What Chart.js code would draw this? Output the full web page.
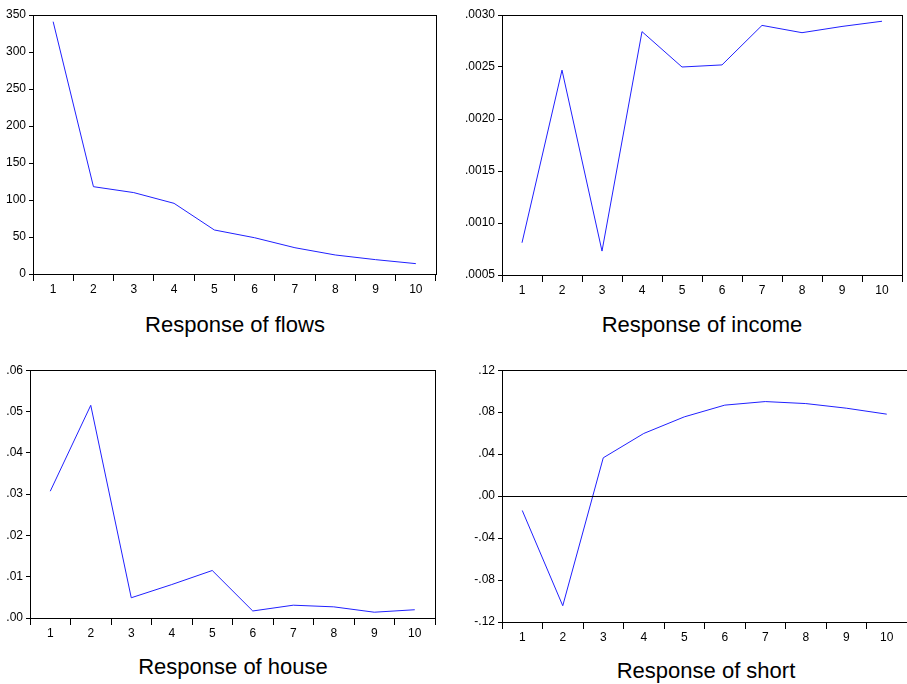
<!DOCTYPE html>
<html>
<head>
<meta charset="utf-8">
<script src="https://cdn.jsdelivr.net/npm/chart.js@4"></script>
<style>
  body { margin: 0; background: #fff; }
  #wrap { position: relative; width: 907px; height: 684px; overflow: hidden; }
  canvas { position: absolute; }
  .ttl { position: absolute; font-family: Arial, "Liberation Sans", sans-serif; font-size: 22px; color: #000; white-space: nowrap; transform: translateX(-50%); }
</style>
</head>
<body>
<div id="wrap">
  <canvas id="c1"></canvas>
  <canvas id="c2"></canvas>
  <canvas id="c3"></canvas>
  <canvas id="c4"></canvas>
  <div class="ttl" style="left:235px; top:312px;">Response of flows</div>
  <div class="ttl" style="left:702px; top:312px;">Response of income</div>
  <div class="ttl" style="left:233px; top:654px;">Response of house</div>
  <div class="ttl" style="left:706px; top:658px;">Response of short</div>
</div>
<script>
// periods after the shock
const steps = ['1', '2', '3', '4', '5', '6', '7', '8', '9', '10'];

// impulse responses
const flows = [341, 118, 110, 95.5, 59.5, 49, 35.5, 25.7, 19.4, 14];
const income = [0.00081, 0.00247, 0.00073, 0.00284, 0.00250, 0.00252, 0.00290, 0.00283, 0.00289, 0.00294];
const house = [0.0307, 0.0515, 0.0049, 0.0081, 0.0115, 0.0017, 0.0031, 0.0027, 0.0014, 0.0020];
const short = [-0.0137, -0.1045, 0.0365, 0.0597, 0.0755, 0.0867, 0.0901, 0.0882, 0.0838, 0.0781];

// y axis ranges: [min, max, step]
const flowsRange = [0, 350, 50];
const incomeRange = [0.0005, 0.0030, 0.0005];
const houseRange = [0, 0.06, 0.01];
const shortRange = [-0.12, 0.12, 0.04];

const FONT = 'Arial, "Liberation Sans", sans-serif';

// EViews style: no leading zero, fixed decimals
function evLabel(dec) {
  return function (v) {
    if (dec === 0) return String(Math.round(v));
    let s = Math.abs(v).toFixed(dec).replace(/^0/, '');
    return (v < -1e-12 ? '-' : '') + s;
  };
}

// frame around the plot area, plus the zero line when asked
const framePlugin = {
  id: 'frame',
  afterDatasetsDraw(chart, args, opts) {
    const a = chart.chartArea;
    const ctx = chart.ctx;
    ctx.save();
    ctx.strokeStyle = '#000';
    ctx.lineWidth = 1;
    ctx.strokeRect(Math.round(a.left) + 0.5, Math.round(a.top) + 0.5,
      Math.round(a.right - a.left), Math.round(a.bottom - a.top));
    if (opts.zero) {
      const y = Math.round(chart.scales.y.getPixelForValue(0)) + 0.5;
      ctx.beginPath();
      ctx.moveTo(a.left, y);
      ctx.lineTo(a.right, y);
      ctx.stroke();
    }
    ctx.restore();
  }
};

// box: canvas left/top/width/height, plot: left/top/right/bottom (page px)
function panel(id, values, range, dec, box, plot, zero) {
  const cv = document.getElementById(id);
  cv.style.left = box[0] + 'px';
  cv.style.top = box[1] + 'px';
  cv.width = box[2];
  cv.height = box[3];
  cv.style.width = box[2] + 'px';
  cv.style.height = box[3] + 'px';

  const yW = plot[0] - box[0];
  const xH = box[1] + box[3] - plot[3];

  new Chart(cv, {
    type: 'line',
    data: {
      labels: steps,
      datasets: [{
        data: values,
        borderColor: '#2020ff',
        borderWidth: 1,
        pointRadius: 0,
        tension: 0,
        fill: false
      }]
    },
    options: {
      responsive: false,
      animation: false,
      layout: {
        padding: {
          top: plot[1] - box[1],
          right: box[0] + box[2] - plot[2],
          left: 0,
          bottom: 0
        }
      },
      plugins: {
        legend: { display: false },
        tooltip: { enabled: false },
        frame: { zero: zero }
      },
      scales: {
        x: {
          type: 'category',
          offset: true,
          border: { display: false },
          grid: {
            offset: true,
            drawOnChartArea: false,
            tickLength: 7,
            tickColor: '#000',
            tickWidth: 1
          },
          ticks: { color: '#000', font: { family: FONT, size: 12 }, padding: 1, maxRotation: 0, autoSkip: false },
          afterFit(s) { s.height = xH; }
        },
        y: {
          min: range[0],
          max: range[1],
          border: { display: false },
          grid: {
            drawOnChartArea: false,
            tickLength: 4,
            tickColor: '#000',
            tickWidth: 1
          },
          ticks: {
            stepSize: range[2],
            color: '#000',
            font: { family: FONT, size: 12 },
            padding: 3,
            callback: evLabel(dec)
          },
          afterFit(s) { s.width = yW; }
        }
      }
    },
    plugins: [framePlugin]
  });
}

panel('c1', flows, flowsRange, 0, [0, 0, 450, 300], [33, 15, 436, 274], false);
panel('c2', income, incomeRange, 4, [450, 0, 457, 300], [502, 15, 902, 275], false);
panel('c3', house, houseRange, 2, [0, 360, 450, 290], [30, 370, 435, 618], false);
panel('c4', short, shortRange, 2, [450, 360, 457, 290], [502, 370, 907, 622], true);
</script>
</body>
</html>
